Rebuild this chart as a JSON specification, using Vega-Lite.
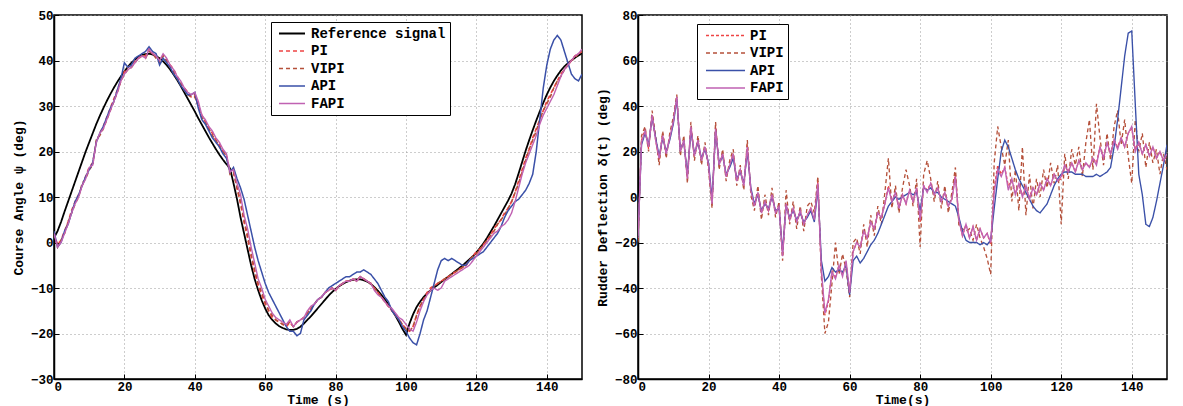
{
"$schema": "https://vega.github.io/schema/vega-lite/v6.json",
"background": "white",
"padding": {"left": 11, "top": 8, "right": 5, "bottom": 0},
"spacing": 12,
"resolve": {"scale": {"color": "independent", "strokeDash": "independent", "strokeWidth": "independent"}, "legend": {"color": "independent", "strokeDash": "independent"}},
"config": {
  "font": "Liberation Mono",
  "view": {"stroke": "black", "strokeWidth": 1.5},
  "axis": {"labelFont": "Liberation Mono", "labelFontWeight": "bold", "labelFontSize": 12.5, "labelColor": "black",
    "titleFont": "Liberation Mono", "titleFontWeight": "bold", "titleFontSize": 13, "titleColor": "black",
    "domainColor": "black", "domainWidth": 1.5, "tickColor": "black", "tickSize": -5, "tickWidth": 1,
    "gridColor": "#9a9a9a", "gridDash": [1, 3], "gridWidth": 1, "labelPadding": 6},
  "legend": {"labelFont": "Liberation Mono", "labelFontWeight": "bold", "labelFontSize": 14, "labelColor": "black",
    "strokeColor": "black", "fillColor": "white", "symbolStrokeWidth": 1.6, "title": null}
},
"datasets": {
"left": [
{"t":0,"Reference signal":1,"PI":2,"VIPI":2,"API":2.5,"FAPI":2},
{"t":1,"Reference signal":2.5,"PI":-0.5,"VIPI":-1,"API":-1,"FAPI":-1},
{"t":2,"Reference signal":4.5,"PI":0.5,"VIPI":0.5,"API":0,"FAPI":0},
{"t":3,"Reference signal":6.8,"PI":2.5,"VIPI":2,"API":2.5,"FAPI":2},
{"t":4,"Reference signal":9,"PI":4.5,"VIPI":4.5,"API":4,"FAPI":4},
{"t":5,"Reference signal":11.2,"PI":7,"VIPI":6.5,"API":6.5,"FAPI":6.5},
{"t":6,"Reference signal":13.4,"PI":9,"VIPI":8.5,"API":9,"FAPI":8.5},
{"t":7,"Reference signal":15.6,"PI":10.5,"VIPI":10,"API":10.5,"FAPI":10},
{"t":8,"Reference signal":17.8,"PI":12.5,"VIPI":13,"API":12.5,"FAPI":12.5},
{"t":9,"Reference signal":20,"PI":14.5,"VIPI":14,"API":14.5,"FAPI":14},
{"t":10,"Reference signal":22,"PI":16.5,"VIPI":16,"API":16,"FAPI":16.5},
{"t":11,"Reference signal":24,"PI":17.5,"VIPI":17,"API":17.5,"FAPI":17},
{"t":12,"Reference signal":26,"PI":22,"VIPI":22.5,"API":22,"FAPI":22},
{"t":13,"Reference signal":27.8,"PI":24,"VIPI":23.5,"API":24,"FAPI":24},
{"t":14,"Reference signal":29.5,"PI":25.5,"VIPI":25,"API":25.5,"FAPI":25},
{"t":15,"Reference signal":31.1,"PI":27.5,"VIPI":27,"API":27.5,"FAPI":27},
{"t":16,"Reference signal":32.6,"PI":29.5,"VIPI":29,"API":29.5,"FAPI":29},
{"t":17,"Reference signal":34,"PI":31.5,"VIPI":31,"API":31,"FAPI":31},
{"t":18,"Reference signal":35.3,"PI":33.5,"VIPI":33,"API":33.5,"FAPI":33},
{"t":19,"Reference signal":36.5,"PI":35.5,"VIPI":35.5,"API":36,"FAPI":35.5},
{"t":20,"Reference signal":37.6,"PI":37.5,"VIPI":37,"API":39.5,"FAPI":37},
{"t":21,"Reference signal":38.6,"PI":38.5,"VIPI":38,"API":38.5,"FAPI":38},
{"t":22,"Reference signal":39.5,"PI":39,"VIPI":38.5,"API":39,"FAPI":38.5},
{"t":23,"Reference signal":40.2,"PI":40,"VIPI":39.5,"API":40.5,"FAPI":39.5},
{"t":24,"Reference signal":40.8,"PI":40.5,"VIPI":40.5,"API":41,"FAPI":40.5},
{"t":25,"Reference signal":41.2,"PI":41,"VIPI":41,"API":41.5,"FAPI":41},
{"t":26,"Reference signal":41.4,"PI":41,"VIPI":40.5,"API":42,"FAPI":40.5},
{"t":27,"Reference signal":41.5,"PI":42.5,"VIPI":42,"API":43,"FAPI":42.5},
{"t":28,"Reference signal":41.3,"PI":41.5,"VIPI":41.5,"API":42,"FAPI":41.5},
{"t":29,"Reference signal":41,"PI":41,"VIPI":40.5,"API":41.5,"FAPI":41},
{"t":30,"Reference signal":40.5,"PI":40,"VIPI":39.5,"API":39,"FAPI":40},
{"t":31,"Reference signal":39.8,"PI":41,"VIPI":41,"API":40.5,"FAPI":41.5},
{"t":32,"Reference signal":39,"PI":40,"VIPI":40,"API":39.5,"FAPI":40.5},
{"t":33,"Reference signal":38,"PI":39,"VIPI":38.5,"API":38.5,"FAPI":39},
{"t":34,"Reference signal":36.9,"PI":38,"VIPI":37.5,"API":37,"FAPI":38},
{"t":35,"Reference signal":35.7,"PI":36.5,"VIPI":36,"API":36,"FAPI":36.5},
{"t":36,"Reference signal":34.4,"PI":35,"VIPI":35,"API":34.5,"FAPI":35.5},
{"t":37,"Reference signal":33,"PI":34,"VIPI":33.5,"API":33.5,"FAPI":34},
{"t":38,"Reference signal":31.6,"PI":33,"VIPI":32.5,"API":32.5,"FAPI":33},
{"t":39,"Reference signal":30.2,"PI":32,"VIPI":32,"API":32.5,"FAPI":32.5},
{"t":40,"Reference signal":28.8,"PI":32.5,"VIPI":32,"API":33,"FAPI":33},
{"t":41,"Reference signal":27.3,"PI":30,"VIPI":30,"API":29.5,"FAPI":31},
{"t":42,"Reference signal":25.9,"PI":28,"VIPI":27.5,"API":27,"FAPI":28},
{"t":43,"Reference signal":24.5,"PI":26.5,"VIPI":26.5,"API":26,"FAPI":27},
{"t":44,"Reference signal":23.1,"PI":25,"VIPI":25,"API":24.5,"FAPI":25.5},
{"t":45,"Reference signal":21.8,"PI":24,"VIPI":23.5,"API":23,"FAPI":24.5},
{"t":46,"Reference signal":20.5,"PI":22.5,"VIPI":22.5,"API":22,"FAPI":23},
{"t":47,"Reference signal":19.3,"PI":21.5,"VIPI":21,"API":21,"FAPI":22},
{"t":48,"Reference signal":18.2,"PI":20,"VIPI":20,"API":19.5,"FAPI":20.5},
{"t":49,"Reference signal":17.2,"PI":19,"VIPI":19,"API":18.5,"FAPI":19.5},
{"t":50,"Reference signal":16.3,"PI":15.5,"VIPI":15,"API":15.5,"FAPI":15.5},
{"t":51,"Reference signal":13,"PI":15.5,"VIPI":15.5,"API":16.5,"FAPI":16},
{"t":52,"Reference signal":9.5,"PI":12,"VIPI":12,"API":14,"FAPI":13},
{"t":53,"Reference signal":5.5,"PI":8.5,"VIPI":9,"API":12,"FAPI":10.5},
{"t":54,"Reference signal":2,"PI":4.5,"VIPI":5,"API":9.5,"FAPI":6},
{"t":55,"Reference signal":-1.5,"PI":1,"VIPI":1.5,"API":6,"FAPI":3},
{"t":56,"Reference signal":-5,"PI":-3,"VIPI":-2.5,"API":2.5,"FAPI":-1},
{"t":57,"Reference signal":-8,"PI":-6.5,"VIPI":-6,"API":-1,"FAPI":-4.5},
{"t":58,"Reference signal":-10.5,"PI":-9.5,"VIPI":-9,"API":-4,"FAPI":-8},
{"t":59,"Reference signal":-12.7,"PI":-11.5,"VIPI":-11,"API":-6.5,"FAPI":-10},
{"t":60,"Reference signal":-14.5,"PI":-13.5,"VIPI":-13,"API":-9,"FAPI":-12.5},
{"t":61,"Reference signal":-16,"PI":-15,"VIPI":-15,"API":-11,"FAPI":-14},
{"t":62,"Reference signal":-17,"PI":-16.5,"VIPI":-16,"API":-12.5,"FAPI":-15.5},
{"t":63,"Reference signal":-17.8,"PI":-17,"VIPI":-17,"API":-14,"FAPI":-16.5},
{"t":64,"Reference signal":-18.4,"PI":-17.5,"VIPI":-17.5,"API":-15.5,"FAPI":-17},
{"t":65,"Reference signal":-18.8,"PI":-18,"VIPI":-18,"API":-17,"FAPI":-17.5},
{"t":66,"Reference signal":-19.1,"PI":-18.5,"VIPI":-18,"API":-18.5,"FAPI":-18},
{"t":67,"Reference signal":-19.2,"PI":-17.5,"VIPI":-17.5,"API":-19.5,"FAPI":-17},
{"t":68,"Reference signal":-19.2,"PI":-18.5,"VIPI":-18.5,"API":-19.5,"FAPI":-18.5},
{"t":69,"Reference signal":-19,"PI":-17.5,"VIPI":-17.5,"API":-20.5,"FAPI":-17.5},
{"t":70,"Reference signal":-18.5,"PI":-17,"VIPI":-17,"API":-20,"FAPI":-17},
{"t":71,"Reference signal":-17.8,"PI":-16.5,"VIPI":-16.5,"API":-17,"FAPI":-16.5},
{"t":72,"Reference signal":-17,"PI":-15.5,"VIPI":-15.5,"API":-16,"FAPI":-15},
{"t":73,"Reference signal":-16.2,"PI":-14.5,"VIPI":-14.5,"API":-15,"FAPI":-14},
{"t":74,"Reference signal":-15.3,"PI":-13.5,"VIPI":-13.5,"API":-13.5,"FAPI":-13.5},
{"t":75,"Reference signal":-14.4,"PI":-12.5,"VIPI":-12.5,"API":-12.5,"FAPI":-12.5},
{"t":76,"Reference signal":-13.5,"PI":-12,"VIPI":-12,"API":-12,"FAPI":-12},
{"t":77,"Reference signal":-12.6,"PI":-11,"VIPI":-11,"API":-11,"FAPI":-11},
{"t":78,"Reference signal":-11.7,"PI":-10.5,"VIPI":-10.5,"API":-10,"FAPI":-10.5},
{"t":79,"Reference signal":-10.9,"PI":-10,"VIPI":-10,"API":-9.5,"FAPI":-10},
{"t":80,"Reference signal":-10.2,"PI":-10.5,"VIPI":-10.5,"API":-9,"FAPI":-10.5},
{"t":81,"Reference signal":-9.6,"PI":-9.5,"VIPI":-9.5,"API":-8.5,"FAPI":-9.5},
{"t":82,"Reference signal":-9.1,"PI":-9,"VIPI":-9,"API":-8,"FAPI":-9},
{"t":83,"Reference signal":-8.7,"PI":-8.5,"VIPI":-8.5,"API":-7.5,"FAPI":-8.5},
{"t":84,"Reference signal":-8.4,"PI":-8.5,"VIPI":-8.5,"API":-7.5,"FAPI":-8.5},
{"t":85,"Reference signal":-8.2,"PI":-8,"VIPI":-8,"API":-7,"FAPI":-8},
{"t":86,"Reference signal":-8.1,"PI":-8.5,"VIPI":-8.5,"API":-6.5,"FAPI":-8.5},
{"t":87,"Reference signal":-8.1,"PI":-7.5,"VIPI":-7.5,"API":-6.5,"FAPI":-7.5},
{"t":88,"Reference signal":-8.3,"PI":-8,"VIPI":-8,"API":-6,"FAPI":-8},
{"t":89,"Reference signal":-8.6,"PI":-8.5,"VIPI":-8.5,"API":-6.5,"FAPI":-8.5},
{"t":90,"Reference signal":-9.1,"PI":-9,"VIPI":-9,"API":-7,"FAPI":-9},
{"t":91,"Reference signal":-9.8,"PI":-10,"VIPI":-10,"API":-8,"FAPI":-10.5},
{"t":92,"Reference signal":-10.6,"PI":-11,"VIPI":-11,"API":-9,"FAPI":-11.5},
{"t":93,"Reference signal":-11.5,"PI":-12,"VIPI":-12,"API":-10.5,"FAPI":-12},
{"t":94,"Reference signal":-12.5,"PI":-13,"VIPI":-13,"API":-12,"FAPI":-13},
{"t":95,"Reference signal":-13.6,"PI":-14,"VIPI":-14,"API":-13,"FAPI":-14},
{"t":96,"Reference signal":-14.8,"PI":-15,"VIPI":-15,"API":-15,"FAPI":-14.5},
{"t":97,"Reference signal":-16.1,"PI":-16,"VIPI":-16,"API":-16,"FAPI":-15.5},
{"t":98,"Reference signal":-17.5,"PI":-17,"VIPI":-17,"API":-17,"FAPI":-16.5},
{"t":99,"Reference signal":-19,"PI":-18,"VIPI":-18,"API":-18.5,"FAPI":-17},
{"t":100,"Reference signal":-20.3,"PI":-19,"VIPI":-19,"API":-19.5,"FAPI":-18},
{"t":101,"Reference signal":-17.8,"PI":-19.5,"VIPI":-19.5,"API":-21,"FAPI":-19},
{"t":102,"Reference signal":-15.8,"PI":-18.5,"VIPI":-18.5,"API":-22,"FAPI":-19.5},
{"t":103,"Reference signal":-14.2,"PI":-16,"VIPI":-16,"API":-22.5,"FAPI":-17.5},
{"t":104,"Reference signal":-13,"PI":-14,"VIPI":-14,"API":-20,"FAPI":-15},
{"t":105,"Reference signal":-12,"PI":-12.5,"VIPI":-12.5,"API":-17,"FAPI":-13},
{"t":106,"Reference signal":-11.2,"PI":-11,"VIPI":-11.5,"API":-15,"FAPI":-11.5},
{"t":107,"Reference signal":-10.5,"PI":-10,"VIPI":-10.5,"API":-12,"FAPI":-10.5},
{"t":108,"Reference signal":-9.9,"PI":-9.5,"VIPI":-9.5,"API":-9,"FAPI":-10},
{"t":109,"Reference signal":-9.3,"PI":-9,"VIPI":-9,"API":-6,"FAPI":-10.5},
{"t":110,"Reference signal":-8.7,"PI":-8.5,"VIPI":-8.5,"API":-4,"FAPI":-10},
{"t":111,"Reference signal":-8.1,"PI":-8,"VIPI":-8,"API":-3.5,"FAPI":-8.5},
{"t":112,"Reference signal":-7.5,"PI":-7.5,"VIPI":-7.5,"API":-4,"FAPI":-8},
{"t":113,"Reference signal":-6.9,"PI":-7,"VIPI":-7,"API":-3.5,"FAPI":-7.5},
{"t":114,"Reference signal":-6.3,"PI":-6.5,"VIPI":-6.5,"API":-4,"FAPI":-7},
{"t":115,"Reference signal":-5.7,"PI":-6,"VIPI":-6,"API":-4.5,"FAPI":-6.5},
{"t":116,"Reference signal":-5.1,"PI":-5.5,"VIPI":-5.5,"API":-5,"FAPI":-6},
{"t":117,"Reference signal":-4.4,"PI":-5,"VIPI":-5,"API":-5,"FAPI":-5.5},
{"t":118,"Reference signal":-3.7,"PI":-4,"VIPI":-4,"API":-4,"FAPI":-5},
{"t":119,"Reference signal":-3,"PI":-3,"VIPI":-3,"API":-3.5,"FAPI":-4},
{"t":120,"Reference signal":-2.2,"PI":-2,"VIPI":-2.5,"API":-3,"FAPI":-3},
{"t":121,"Reference signal":-1.2,"PI":-1.5,"VIPI":-1.5,"API":-2.5,"FAPI":-2},
{"t":122,"Reference signal":-0.2,"PI":-0.5,"VIPI":-0.5,"API":-2,"FAPI":-1},
{"t":123,"Reference signal":1,"PI":0.5,"VIPI":0.5,"API":-1,"FAPI":0},
{"t":124,"Reference signal":2.3,"PI":1.5,"VIPI":1.5,"API":0,"FAPI":1},
{"t":125,"Reference signal":3.6,"PI":3,"VIPI":2.5,"API":1,"FAPI":2},
{"t":126,"Reference signal":5,"PI":4,"VIPI":4,"API":2,"FAPI":2.5},
{"t":127,"Reference signal":6.4,"PI":5,"VIPI":5,"API":3.5,"FAPI":3.5},
{"t":128,"Reference signal":7.8,"PI":6.5,"VIPI":6,"API":5.5,"FAPI":4},
{"t":129,"Reference signal":9.2,"PI":7.5,"VIPI":7.5,"API":7,"FAPI":5},
{"t":130,"Reference signal":10.8,"PI":9,"VIPI":9,"API":8,"FAPI":6.5},
{"t":131,"Reference signal":12.8,"PI":11,"VIPI":11,"API":9,"FAPI":9},
{"t":132,"Reference signal":15.2,"PI":13.5,"VIPI":13,"API":9.5,"FAPI":12},
{"t":133,"Reference signal":17.7,"PI":16,"VIPI":15.5,"API":10.5,"FAPI":15},
{"t":134,"Reference signal":20.2,"PI":18.5,"VIPI":18,"API":11.5,"FAPI":17.5},
{"t":135,"Reference signal":22.5,"PI":20.5,"VIPI":20.5,"API":13,"FAPI":19.5},
{"t":136,"Reference signal":24.7,"PI":23,"VIPI":22.5,"API":15,"FAPI":21.5},
{"t":137,"Reference signal":26.8,"PI":25,"VIPI":24.5,"API":20,"FAPI":23.5},
{"t":138,"Reference signal":28.8,"PI":27,"VIPI":27,"API":27,"FAPI":26},
{"t":139,"Reference signal":30.7,"PI":29,"VIPI":29,"API":34,"FAPI":28},
{"t":140,"Reference signal":32.5,"PI":31,"VIPI":30.5,"API":39,"FAPI":29.5},
{"t":141,"Reference signal":34.1,"PI":32.5,"VIPI":32,"API":42.5,"FAPI":31},
{"t":142,"Reference signal":35.5,"PI":34,"VIPI":34,"API":44.5,"FAPI":32.5},
{"t":143,"Reference signal":36.7,"PI":35.5,"VIPI":35.5,"API":45.5,"FAPI":34.5},
{"t":144,"Reference signal":37.8,"PI":37,"VIPI":36.5,"API":44.5,"FAPI":36.5},
{"t":145,"Reference signal":38.7,"PI":38,"VIPI":38,"API":42,"FAPI":38},
{"t":146,"Reference signal":39.4,"PI":39,"VIPI":39,"API":39.5,"FAPI":39},
{"t":147,"Reference signal":40,"PI":40,"VIPI":40,"API":37,"FAPI":40},
{"t":148,"Reference signal":40.6,"PI":41,"VIPI":40.5,"API":36,"FAPI":41},
{"t":149,"Reference signal":41.1,"PI":41.5,"VIPI":41.5,"API":35.5,"FAPI":41.5},
{"t":150,"Reference signal":41.6,"PI":42,"VIPI":42,"API":37,"FAPI":42.5}
],
"right": [
{"t":0,"PI":-19,"VIPI":-20,"API":-17,"FAPI":-18},
{"t":1,"PI":25,"VIPI":27,"API":23,"FAPI":24},
{"t":2,"PI":30,"VIPI":31,"API":28,"FAPI":29},
{"t":3,"PI":21,"VIPI":20,"API":23,"FAPI":22},
{"t":4,"PI":36,"VIPI":38,"API":35,"FAPI":36},
{"t":5,"PI":25,"VIPI":27,"API":26,"FAPI":25},
{"t":6,"PI":16,"VIPI":14,"API":18,"FAPI":17},
{"t":7,"PI":28,"VIPI":29,"API":26,"FAPI":27},
{"t":8,"PI":19,"VIPI":17,"API":20,"FAPI":19},
{"t":9,"PI":26,"VIPI":28,"API":25,"FAPI":26},
{"t":10,"PI":33,"VIPI":35,"API":32,"FAPI":33},
{"t":11,"PI":44,"VIPI":45,"API":43,"FAPI":44},
{"t":12,"PI":20,"VIPI":18,"API":21,"FAPI":20},
{"t":13,"PI":25,"VIPI":27,"API":24,"FAPI":25},
{"t":14,"PI":8,"VIPI":6,"API":10,"FAPI":8},
{"t":15,"PI":31,"VIPI":33,"API":29,"FAPI":31},
{"t":16,"PI":18,"VIPI":16,"API":19,"FAPI":18},
{"t":17,"PI":25,"VIPI":27,"API":24,"FAPI":25},
{"t":18,"PI":16,"VIPI":14,"API":17,"FAPI":16},
{"t":19,"PI":22,"VIPI":24,"API":21,"FAPI":22},
{"t":20,"PI":14,"VIPI":12,"API":15,"FAPI":14},
{"t":21,"PI":-3,"VIPI":-5,"API":-1,"FAPI":-3},
{"t":22,"PI":31,"VIPI":33,"API":29,"FAPI":30},
{"t":23,"PI":14,"VIPI":12,"API":15,"FAPI":14},
{"t":24,"PI":19,"VIPI":21,"API":18,"FAPI":19},
{"t":25,"PI":9,"VIPI":7,"API":10,"FAPI":9},
{"t":26,"PI":14,"VIPI":16,"API":13,"FAPI":14},
{"t":27,"PI":19,"VIPI":21,"API":17,"FAPI":19},
{"t":28,"PI":7,"VIPI":5,"API":8,"FAPI":7},
{"t":29,"PI":12,"VIPI":14,"API":11,"FAPI":12},
{"t":30,"PI":5,"VIPI":3,"API":6,"FAPI":5},
{"t":31,"PI":23,"VIPI":25,"API":20,"FAPI":22},
{"t":32,"PI":3,"VIPI":1,"API":4,"FAPI":3},
{"t":33,"PI":-4,"VIPI":-6,"API":-3,"FAPI":-4},
{"t":34,"PI":2,"VIPI":5,"API":1,"FAPI":2},
{"t":35,"PI":-7,"VIPI":-10,"API":-6,"FAPI":-7},
{"t":36,"PI":-2,"VIPI":1,"API":-3,"FAPI":-2},
{"t":37,"PI":-6,"VIPI":-8,"API":-5,"FAPI":-6},
{"t":38,"PI":1,"VIPI":4,"API":0,"FAPI":1},
{"t":39,"PI":-7,"VIPI":-9,"API":-6,"FAPI":-7},
{"t":40,"PI":-4,"VIPI":-2,"API":-5,"FAPI":-4},
{"t":41,"PI":-26,"VIPI":-28,"API":-24,"FAPI":-26},
{"t":42,"PI":-3,"VIPI":3,"API":-4,"FAPI":-3},
{"t":43,"PI":-10,"VIPI":-12,"API":-9,"FAPI":-10},
{"t":44,"PI":-5,"VIPI":-2,"API":-6,"FAPI":-5},
{"t":45,"PI":-11,"VIPI":-14,"API":-10,"FAPI":-11},
{"t":46,"PI":-6,"VIPI":-4,"API":-7,"FAPI":-6},
{"t":47,"PI":-12,"VIPI":-15,"API":-11,"FAPI":-12},
{"t":48,"PI":-8,"VIPI":-4,"API":-9,"FAPI":-8},
{"t":49,"PI":-5,"VIPI":-2,"API":-6,"FAPI":-5},
{"t":50,"PI":-10,"VIPI":-7,"API":-11,"FAPI":-10},
{"t":51,"PI":7,"VIPI":9,"API":4,"FAPI":6},
{"t":52,"PI":-33,"VIPI":-35,"API":-28,"FAPI":-32},
{"t":53,"PI":-52,"VIPI":-60,"API":-37,"FAPI":-51},
{"t":54,"PI":-46,"VIPI":-55,"API":-35,"FAPI":-45},
{"t":55,"PI":-33,"VIPI":-38,"API":-31,"FAPI":-33},
{"t":56,"PI":-35,"VIPI":-20,"API":-33,"FAPI":-36},
{"t":57,"PI":-30,"VIPI":-34,"API":-32,"FAPI":-30},
{"t":58,"PI":-34,"VIPI":-25,"API":-33,"FAPI":-35},
{"t":59,"PI":-29,"VIPI":-32,"API":-30,"FAPI":-28},
{"t":60,"PI":-42,"VIPI":-44,"API":-43,"FAPI":-42},
{"t":61,"PI":-24,"VIPI":-20,"API":-28,"FAPI":-24},
{"t":62,"PI":-20,"VIPI":-18,"API":-26,"FAPI":-20},
{"t":63,"PI":-22,"VIPI":-25,"API":-29,"FAPI":-22},
{"t":64,"PI":-15,"VIPI":-12,"API":-27,"FAPI":-15},
{"t":65,"PI":-18,"VIPI":-22,"API":-24,"FAPI":-18},
{"t":66,"PI":-11,"VIPI":-8,"API":-21,"FAPI":-11},
{"t":67,"PI":-14,"VIPI":-17,"API":-19,"FAPI":-14},
{"t":68,"PI":-7,"VIPI":-4,"API":-16,"FAPI":-7},
{"t":69,"PI":-9,"VIPI":-12,"API":-12,"FAPI":-9},
{"t":70,"PI":-3,"VIPI":2,"API":-8,"FAPI":-3},
{"t":71,"PI":5,"VIPI":17,"API":-4,"FAPI":4},
{"t":72,"PI":-2,"VIPI":-5,"API":-2,"FAPI":-2},
{"t":73,"PI":2,"VIPI":5,"API":0,"FAPI":2},
{"t":74,"PI":-5,"VIPI":-7,"API":-1,"FAPI":-5},
{"t":75,"PI":1,"VIPI":4,"API":0,"FAPI":1},
{"t":76,"PI":-3,"VIPI":12,"API":1,"FAPI":-3},
{"t":77,"PI":3,"VIPI":5,"API":2,"FAPI":3},
{"t":78,"PI":-2,"VIPI":-4,"API":1,"FAPI":-2},
{"t":79,"PI":4,"VIPI":8,"API":2,"FAPI":4},
{"t":80,"PI":-11,"VIPI":-22,"API":-6,"FAPI":-10},
{"t":81,"PI":5,"VIPI":10,"API":4,"FAPI":5},
{"t":82,"PI":3,"VIPI":16,"API":3,"FAPI":2},
{"t":83,"PI":6,"VIPI":8,"API":4,"FAPI":6},
{"t":84,"PI":1,"VIPI":-2,"API":2,"FAPI":1},
{"t":85,"PI":4,"VIPI":7,"API":2,"FAPI":4},
{"t":86,"PI":-2,"VIPI":-5,"API":0,"FAPI":-2},
{"t":87,"PI":2,"VIPI":5,"API":-1,"FAPI":2},
{"t":88,"PI":-4,"VIPI":-7,"API":-2,"FAPI":-4},
{"t":89,"PI":-1,"VIPI":2,"API":-3,"FAPI":-1},
{"t":90,"PI":10,"VIPI":13,"API":-4,"FAPI":9},
{"t":91,"PI":-10,"VIPI":-13,"API":-9,"FAPI":-10},
{"t":92,"PI":-17,"VIPI":-14,"API":-15,"FAPI":-17},
{"t":93,"PI":-12,"VIPI":-15,"API":-19,"FAPI":-12},
{"t":94,"PI":-18,"VIPI":-14,"API":-20,"FAPI":-18},
{"t":95,"PI":-13,"VIPI":-19,"API":-20,"FAPI":-13},
{"t":96,"PI":-19,"VIPI":-12,"API":-20,"FAPI":-19},
{"t":97,"PI":-14,"VIPI":-18,"API":-21,"FAPI":-14},
{"t":98,"PI":-18,"VIPI":-22,"API":-20,"FAPI":-18},
{"t":99,"PI":-16,"VIPI":-27,"API":-21,"FAPI":-16},
{"t":100,"PI":-21,"VIPI":-34,"API":-19,"FAPI":-20},
{"t":101,"PI":4,"VIPI":15,"API":-5,"FAPI":2},
{"t":102,"PI":14,"VIPI":31,"API":8,"FAPI":12},
{"t":103,"PI":10,"VIPI":22,"API":20,"FAPI":9},
{"t":104,"PI":13,"VIPI":14,"API":25,"FAPI":13},
{"t":105,"PI":5,"VIPI":25,"API":22,"FAPI":3},
{"t":106,"PI":7,"VIPI":-2,"API":17,"FAPI":8},
{"t":107,"PI":2,"VIPI":12,"API":12,"FAPI":1},
{"t":108,"PI":5,"VIPI":-6,"API":8,"FAPI":6},
{"t":109,"PI":1,"VIPI":22,"API":5,"FAPI":0},
{"t":110,"PI":4,"VIPI":-8,"API":2,"FAPI":5},
{"t":111,"PI":0,"VIPI":10,"API":-1,"FAPI":-1},
{"t":112,"PI":4,"VIPI":-5,"API":-4,"FAPI":4},
{"t":113,"PI":1,"VIPI":8,"API":-6,"FAPI":1},
{"t":114,"PI":6,"VIPI":0,"API":-7,"FAPI":6},
{"t":115,"PI":3,"VIPI":12,"API":-5,"FAPI":3},
{"t":116,"PI":8,"VIPI":4,"API":-3,"FAPI":8},
{"t":117,"PI":5,"VIPI":15,"API":1,"FAPI":5},
{"t":118,"PI":10,"VIPI":6,"API":5,"FAPI":10},
{"t":119,"PI":7,"VIPI":14,"API":8,"FAPI":7},
{"t":120,"PI":8,"VIPI":-12,"API":10,"FAPI":9},
{"t":121,"PI":14,"VIPI":19,"API":11,"FAPI":14},
{"t":122,"PI":11,"VIPI":8,"API":11,"FAPI":11},
{"t":123,"PI":15,"VIPI":21,"API":11,"FAPI":15},
{"t":124,"PI":11,"VIPI":14,"API":10,"FAPI":11},
{"t":125,"PI":16,"VIPI":22,"API":10,"FAPI":16},
{"t":126,"PI":12,"VIPI":9,"API":10,"FAPI":12},
{"t":127,"PI":15,"VIPI":24,"API":9,"FAPI":15},
{"t":128,"PI":13,"VIPI":34,"API":9,"FAPI":13},
{"t":129,"PI":17,"VIPI":12,"API":9,"FAPI":17},
{"t":130,"PI":15,"VIPI":41,"API":10,"FAPI":14},
{"t":131,"PI":22,"VIPI":26,"API":9,"FAPI":22},
{"t":132,"PI":17,"VIPI":14,"API":10,"FAPI":17},
{"t":133,"PI":24,"VIPI":28,"API":11,"FAPI":24},
{"t":134,"PI":19,"VIPI":16,"API":13,"FAPI":19},
{"t":135,"PI":25,"VIPI":31,"API":22,"FAPI":25},
{"t":136,"PI":22,"VIPI":38,"API":34,"FAPI":21},
{"t":137,"PI":26,"VIPI":23,"API":48,"FAPI":26},
{"t":138,"PI":22,"VIPI":34,"API":62,"FAPI":22},
{"t":139,"PI":28,"VIPI":18,"API":72,"FAPI":28},
{"t":140,"PI":30,"VIPI":6,"API":73,"FAPI":31},
{"t":141,"PI":21,"VIPI":34,"API":41,"FAPI":20},
{"t":142,"PI":24,"VIPI":20,"API":10,"FAPI":24},
{"t":143,"PI":19,"VIPI":28,"API":1,"FAPI":19},
{"t":144,"PI":23,"VIPI":13,"API":-12,"FAPI":23},
{"t":145,"PI":18,"VIPI":24,"API":-13,"FAPI":18},
{"t":146,"PI":22,"VIPI":15,"API":-9,"FAPI":22},
{"t":147,"PI":17,"VIPI":21,"API":-2,"FAPI":17},
{"t":148,"PI":20,"VIPI":10,"API":6,"FAPI":20},
{"t":149,"PI":16,"VIPI":19,"API":14,"FAPI":16},
{"t":150,"PI":18,"VIPI":12,"API":23,"FAPI":19}
]
},
"hconcat": [
{
  "width": 528, "height": 364,
  "data": {"name": "left"},
  "transform": [{"fold": ["Reference signal", "PI", "VIPI", "API", "FAPI"], "as": ["series", "value"]}],
  "mark": {"type": "line", "clip": true},
  "encoding": {
    "x": {"field": "t", "type": "quantitative", "scale": {"domain": [0, 150], "nice": false},
      "axis": {"values": [0, 20, 40, 60, 80, 100, 120, 140], "title": "Time (s)", "titlePadding": 1}},
    "y": {"field": "value", "type": "quantitative", "scale": {"domain": [-30, 50], "nice": false},
      "axis": {"values": [-30, -20, -10, 0, 10, 20, 30, 40, 50], "title": "Course Angle ψ (deg)", "titlePadding": 5}},
    "color": {"field": "series", "type": "nominal",
      "scale": {"domain": ["Reference signal", "PI", "VIPI", "API", "FAPI"], "range": ["#000000", "#ee4444", "#b5503a", "#3a50a8", "#c062b2"]},
      "legend": {"orient": "none", "legendX": 217, "legendY": 7, "symbolType": "M-2,0H2", "symbolSize": 169, "symbolOffset": 9.5, "labelOffset": 11.5, "padding": 4, "rowPadding": 2.5}},
    "strokeDash": {"field": "series", "type": "nominal",
      "scale": {"domain": ["Reference signal", "PI", "VIPI", "API", "FAPI"], "range": [[1, 0], [4, 3], [4, 3], [1, 0], [1, 0]]},
      "legend": {"orient": "none", "legendX": 217, "legendY": 7, "symbolType": "M-2,0H2", "symbolSize": 169, "symbolOffset": 9.5, "labelOffset": 11.5, "padding": 4, "rowPadding": 2.5}},
    "strokeWidth": {"field": "series", "type": "nominal",
      "scale": {"domain": ["Reference signal", "PI", "VIPI", "API", "FAPI"], "range": [1.8, 1.4, 1.4, 1.4, 2]}, "legend": null}
  }
},
{
  "width": 529, "height": 364,
  "data": {"name": "right"},
  "transform": [{"fold": ["PI", "VIPI", "API", "FAPI"], "as": ["series", "value"]}],
  "mark": {"type": "line", "clip": true},
  "encoding": {
    "x": {"field": "t", "type": "quantitative", "scale": {"domain": [0, 150], "nice": false},
      "axis": {"values": [0, 20, 40, 60, 80, 100, 120, 140], "title": "Time(s)", "titlePadding": 1}},
    "y": {"field": "value", "type": "quantitative", "scale": {"domain": [-80, 80], "nice": false},
      "axis": {"values": [-80, -60, -40, -20, 0, 20, 40, 60, 80], "title": "Rudder Deflection δ(t) (deg)", "titlePadding": 5}},
    "color": {"field": "series", "type": "nominal",
      "scale": {"domain": ["PI", "VIPI", "API", "FAPI"], "range": ["#ee4444", "#b5503a", "#3a50a8", "#c062b2"]},
      "legend": {"orient": "none", "legendX": 59, "legendY": 9, "symbolType": "M-3,0H3", "symbolSize": 169, "symbolOffset": 17, "labelOffset": 17, "padding": 4, "rowPadding": 2.5, "labelExpr": "datum.label + '\u00a0\u00a0\u00a0\u00a0\u00a0'"}},
    "strokeDash": {"field": "series", "type": "nominal",
      "scale": {"domain": ["PI", "VIPI", "API", "FAPI"], "range": [[3, 2], [4, 3], [1, 0], [1, 0]]},
      "legend": {"orient": "none", "legendX": 59, "legendY": 9, "symbolType": "M-3,0H3", "symbolSize": 169, "symbolOffset": 17, "labelOffset": 17, "padding": 4, "rowPadding": 2.5, "labelExpr": "datum.label + '\u00a0\u00a0\u00a0\u00a0\u00a0'"}},
    "strokeWidth": {"field": "series", "type": "nominal",
      "scale": {"domain": ["PI", "VIPI", "API", "FAPI"], "range": [1.3, 1.4, 1.4, 2]}, "legend": null}
  }
}
]
}
